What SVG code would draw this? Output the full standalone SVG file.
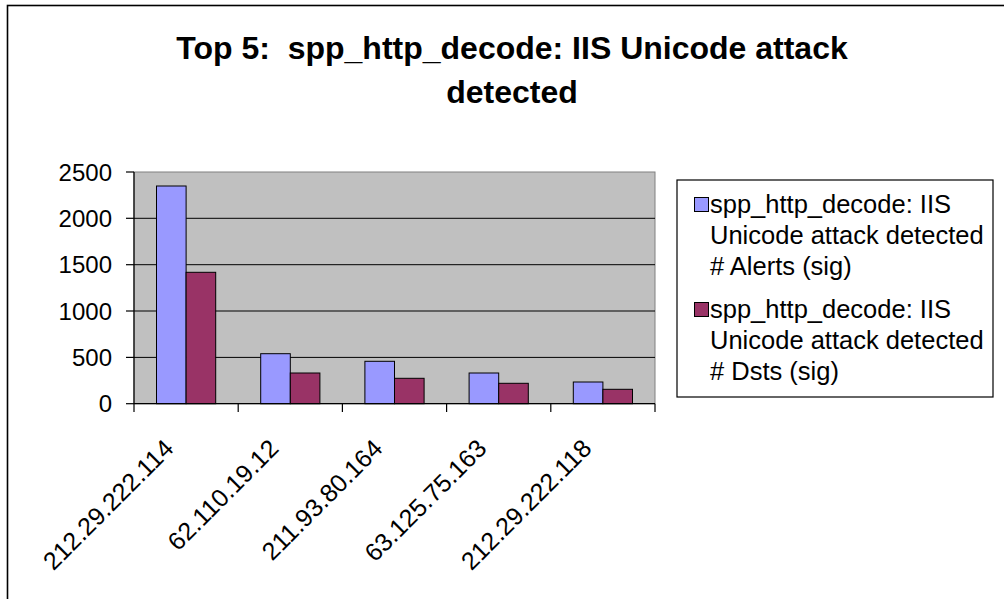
<svg xmlns="http://www.w3.org/2000/svg" width="1004" height="599" viewBox="0 0 1004 599">
<style>
text{font-family:"Liberation Sans",Arial,sans-serif;fill:#000}
.title{font-size:32px;font-weight:bold;text-anchor:middle;white-space:pre}
.ylab{font-size:24px;text-anchor:end}
.xlab{font-size:25px;text-anchor:end}
.leg{font-size:25.5px}
.b1{fill:#9999FF;stroke:#000;stroke-width:1}
.b2{fill:#993366;stroke:#000;stroke-width:1}
.grid{stroke:#000;stroke-width:1}
.ax{stroke:#000;stroke-width:1.2}
</style>
<rect x="0" y="0" width="1004" height="599" fill="#fff"/>
<rect x="7.5" y="5.5" width="1010" height="610" fill="none" stroke="#000" stroke-width="1.6"/>
<g id="title">
<text class="title" x="512" y="59" xml:space="preserve">Top 5:  spp_http_decode: IIS Unicode attack</text>
<text class="title" x="512" y="103">detected</text>
</g>
<g id="plot">
<rect x="134" y="172" width="521" height="231.7" fill="#C0C0C0" stroke="#808080" stroke-width="1"/>
<line class="grid" x1="134" y1="218.3" x2="655" y2="218.3"/>
<line class="grid" x1="134" y1="264.7" x2="655" y2="264.7"/>
<line class="grid" x1="134" y1="311" x2="655" y2="311"/>
<line class="grid" x1="134" y1="357.4" x2="655" y2="357.4"/>
</g>
<g id="bars">
<rect class="b1" x="156.5" y="186" width="29.6" height="217.7"/>
<rect class="b2" x="186.1" y="272.3" width="29.6" height="131.4"/>
<rect class="b1" x="260.7" y="353.7" width="29.6" height="50"/>
<rect class="b2" x="290.3" y="373" width="29.6" height="30.7"/>
<rect class="b1" x="364.9" y="361.3" width="29.6" height="42.4"/>
<rect class="b2" x="394.5" y="378.3" width="29.6" height="25.4"/>
<rect class="b1" x="469.1" y="373" width="29.6" height="30.7"/>
<rect class="b2" x="498.7" y="383.3" width="29.6" height="20.4"/>
<rect class="b1" x="573.3" y="382" width="29.6" height="21.7"/>
<rect class="b2" x="602.9" y="389.3" width="29.6" height="14.4"/>
</g>
<g id="axes">
<line class="ax" x1="134" y1="172" x2="134" y2="404"/>
<line class="ax" x1="134" y1="403.7" x2="655" y2="403.7"/>
<line class="ax" x1="126" y1="172" x2="134" y2="172"/>
<line class="ax" x1="126" y1="218.3" x2="134" y2="218.3"/>
<line class="ax" x1="126" y1="264.7" x2="134" y2="264.7"/>
<line class="ax" x1="126" y1="311" x2="134" y2="311"/>
<line class="ax" x1="126" y1="357.4" x2="134" y2="357.4"/>
<line class="ax" x1="126" y1="403.7" x2="134" y2="403.7"/>
<line class="ax" x1="134" y1="403.7" x2="134" y2="412"/>
<line class="ax" x1="238.2" y1="403.7" x2="238.2" y2="412"/>
<line class="ax" x1="342.4" y1="403.7" x2="342.4" y2="412"/>
<line class="ax" x1="446.6" y1="403.7" x2="446.6" y2="412"/>
<line class="ax" x1="550.8" y1="403.7" x2="550.8" y2="412"/>
<line class="ax" x1="655" y1="403.7" x2="655" y2="412"/>
</g>
<g id="ylabels">
<text class="ylab" x="112" y="180.5">2500</text>
<text class="ylab" x="112" y="226.8">2000</text>
<text class="ylab" x="112" y="273.2">1500</text>
<text class="ylab" x="112" y="319.5">1000</text>
<text class="ylab" x="112" y="365.9">500</text>
<text class="ylab" x="112" y="412.2">0</text>
</g>
<g id="xlabels">
<text class="xlab" transform="translate(175,450) rotate(-45)">212.29.222.114</text>
<text class="xlab" transform="translate(280,450) rotate(-45)">62.110.19.12</text>
<text class="xlab" transform="translate(384,450) rotate(-45)">211.93.80.164</text>
<text class="xlab" transform="translate(488,450) rotate(-45)">63.125.75.163</text>
<text class="xlab" transform="translate(593,450) rotate(-45)">212.29.222.118</text>
</g>
<g id="legend">
<rect x="677" y="180" width="316" height="217" fill="#fff" stroke="#000" stroke-width="1.2"/>
<rect class="b1" x="694.5" y="197.5" width="14" height="14"/>
<text class="leg" x="710" y="213">spp_http_decode: IIS</text>
<text class="leg" x="710" y="244">Unicode attack detected</text>
<text class="leg" x="710" y="275"># Alerts (sig)</text>
<rect class="b2" x="694.5" y="302.5" width="14" height="14"/>
<text class="leg" x="710" y="318">spp_http_decode: IIS</text>
<text class="leg" x="710" y="349">Unicode attack detected</text>
<text class="leg" x="710" y="380"># Dsts (sig)</text>
</g>
</svg>
